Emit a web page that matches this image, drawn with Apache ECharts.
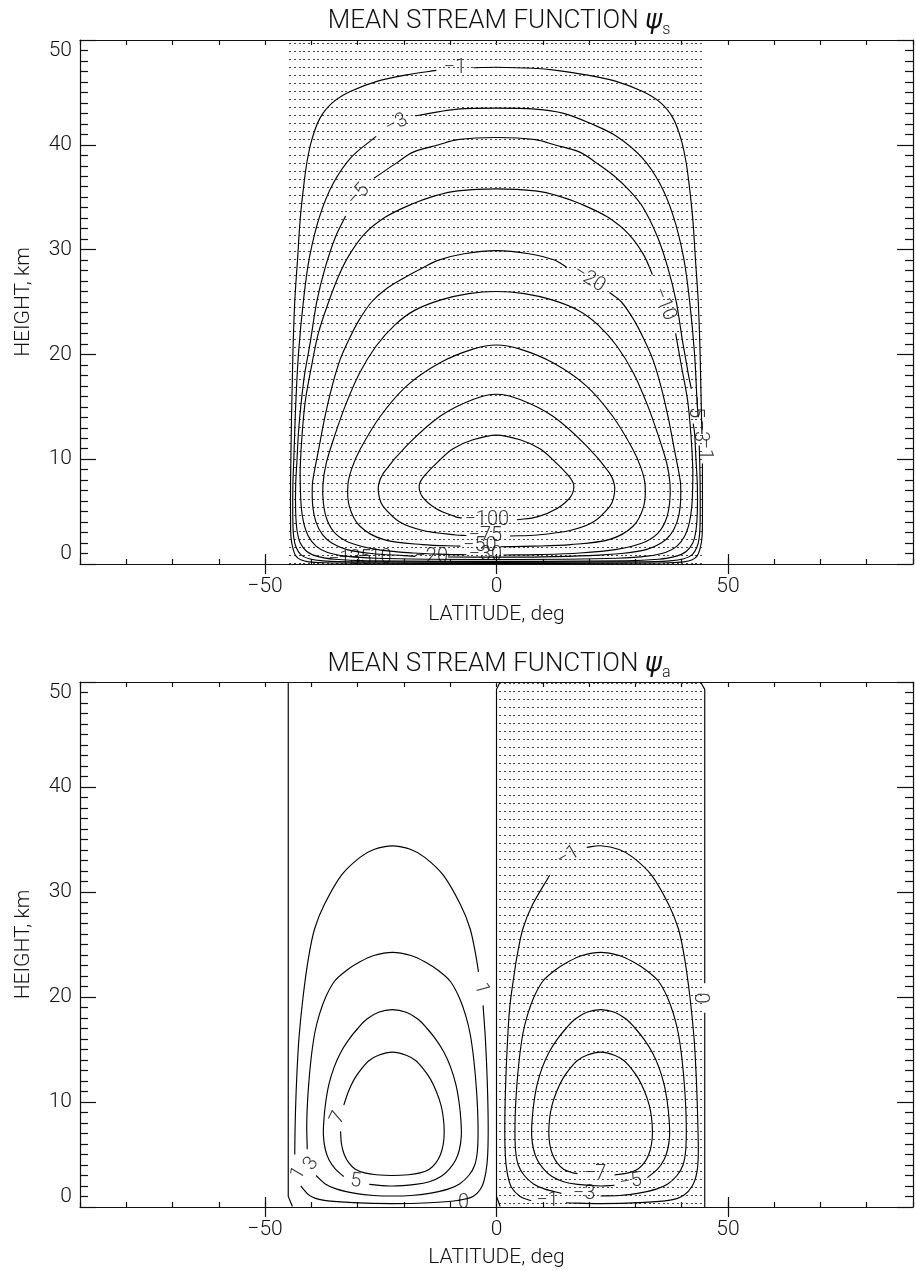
<!DOCTYPE html>
<html>
<head>
<meta charset="utf-8">
<script src="https://cdn.jsdelivr.net/npm/echarts@6/dist/echarts.min.js"></script>
<style>
  html, body { margin: 0; padding: 0; background: #fff; }
  #chart { width: 916px; height: 1271px; }
</style>
</head>
<body>
<div id="chart"></div>
<script>
// ---- axis ticks ----
const xMajorTicks = [-50, 0, 50];

// ---- ψs contours: [latitude deg, height km]; null = gap left for a label ----
const psiS_1 = [
  [-5,47.35],[0,47.4],[8,47.3],[13,47.1],[19,46.7],[25.5,46.1],[31.5,45.1],[35.5,44.0],[38.2,42.5],[39.9,40.5],
  [40.9,38.5],[41.6,36.3],[42.4,33.0],[43.0,29.0],[43.6,25.0],[44.0,20.0],[44.3,14.0],[44.4,12.4], null,
  [44.5,9.6],[44.5,8.0],[44.5,4.0],[44.4,2.5],[44.0,1.5],[43.4,0.8],[42.3,0.4],[40.5,0.2],[37,0.12],[28,0.08],
  [0,0.06],[-28,0.08],[-37,0.12],[-40.5,0.2],[-42.3,0.4],[-43.4,0.8],[-44.0,1.5],[-44.4,2.5],[-44.5,4.0],
  [-44.5,8.0],[-44.3,14.0],[-44.0,20.0],[-43.6,25.0],[-43.0,29.0],[-42.4,33.0],[-41.6,36.3],[-40.9,38.5],
  [-39.9,40.5],[-38.2,42.5],[-35.5,44.0],[-31.5,45.1],[-25.5,46.1],[-19,46.7],[-13,47.1]
];
const psiS_3 = [
  [-17.5,42.75],[-14.5,43.0],[-8.4,43.4],[0,43.5],[8.4,43.4],[14.5,43.0],[20.5,42.0],[26,40.8],[31.4,38.8],
  [35.3,36.3],[38.2,33.2],[40.4,29.3],[41.7,25.2],[42.8,20.0],[43.4,15.0],[43.6,14.0], null,
  [43.8,11.3],[43.9,10.0],[44.0,7.5],[44.0,4.0],[43.8,2.5],[43.3,1.6],[42.3,0.9],[40.5,0.5],[37.5,0.3],[30,0.2],
  [0,0.15],[-30,0.2],[-37.5,0.3],[-40.5,0.5],[-42.3,0.9],[-43.3,1.6],[-43.8,2.5],[-44.0,4.0],[-44.0,7.5],
  [-43.8,10.0],[-43.4,15.0],[-42.8,20.0],[-41.7,25.2],[-40.4,29.3],[-38.2,33.2],[-35.3,36.3],[-31.4,38.8],[-26,40.8]
];
const psiS_5 = [
  [-26.5,36.8],[-21.5,38.3],[-18,39.3],[-12.5,40.0],[-8.4,40.5],[0,40.7],[8.4,40.5],[12.5,40.0],[18,39.3],
  [21.5,38.3],[25.5,37.0],[29,35.5],[31.7,34.0],[34.8,31.2],[37.0,28.3],[38.8,25.1],[40.3,21.0],[41.5,18.0],
  [42.1,16.7], null,
  [42.5,13.4],[42.8,12.5],[43.1,10.0],[43.4,7.5],[43.4,5.0],[43.1,3.2],[42.4,2.0],[41.0,1.2],[38.5,0.7],[35,0.45],
  [28,0.3],[0,0.25],[-28,0.3],[-35,0.45],[-38.5,0.7],[-41.0,1.2],[-42.4,2.0],[-43.1,3.2],[-43.4,5.0],[-43.4,7.5],
  [-43.1,10.0],[-42.8,12.5],[-42.3,15.0],[-41.5,18.0],[-40.3,21.0],[-38.8,25.1],[-37.0,28.3],[-34.8,31.2],[-32.6,33.2]
];
const psiS_10 = [
  [38.7,22.0],[40.0,18.8],[41.3,15.6],[42.0,12.4],[42.4,9.3],[42.4,7.5],[42.2,5.5],[41.7,4.0],[40.7,2.7],
  [39.0,1.7],[36.5,1.1],[32.5,0.75],[26,0.55],[15,0.45],[0,0.43],[-15,0.45],[-26,0.55],[-32.5,0.75],
  [-36.5,1.1],[-39.0,1.7],[-40.7,2.7],[-41.7,4.0],[-42.2,5.5],[-42.4,7.5],[-42.4,9.3],[-42.0,12.4],
  [-41.3,15.6],[-40.0,18.8],[-38.5,22.0],[-36.2,25.1],[-34.0,27.6],[-31.8,29.5],[-28.5,31.5],[-24.0,33.1],
  [-18.5,34.3],[-13.5,35.1],[-8.4,35.6],[0,35.8],[8.4,35.6],[13.5,35.1],[18.5,34.3],[24.0,33.1],[28.5,31.5],
  [31.8,29.5],[33.7,27.6]
];
const psiS_20 = [
  [15.2,28.3],[12.5,29.0],[7,29.6],[0,29.9],[-7,29.6],[-12.5,29.0],[-15.8,28.3],[-20,27.3],[-24,26.2],
  [-27,25.0],[-29.8,23.2],[-31.8,21.5],[-33.8,19.5],[-35.5,17.0],[-37.1,14.0],[-38.4,11.0],[-39.5,8.5],
  [-39.8,7.5],[-39.7,5.5],[-39.0,4.0],[-37.6,2.8],[-35.6,2.0],[-32.5,1.4],[-27,1.0],[-20,0.8],[-17.5,0.73], null,
  [-10.5,0.67],[0,0.65],[10,0.68],[20,0.8],[27,1.0],[32.5,1.4],[35.6,2.0],[37.6,2.8],[39.0,4.0],[39.7,5.5],
  [39.8,7.5],[39.5,8.5],[38.4,11.0],[37.1,14.0],[35.5,17.0],[33.8,19.5],[31.8,21.5],[29.8,23.2],[27,25.0],[24.4,25.9]
];
const psiS_30 = [
  [1.5,0.86],[9,0.9],[18,1.05],[26,1.4],[31.5,2.0],[34.8,2.9],[36.6,4.2],[37.4,5.8],[37.5,7.6],[36.8,9.6],
  [35.0,12.2],[32.5,15.3],[29.5,18.3],[26,20.8],[22,22.8],[17.7,24.2],[12,25.2],[6,25.8],[0,26.0],[-6,25.8],
  [-12,25.2],[-17.7,24.2],[-22,22.8],[-26,20.8],[-29.5,18.3],[-32.5,15.3],[-35.0,12.2],[-36.8,9.6],[-37.5,7.6],
  [-37.4,5.8],[-36.6,4.2],[-34.8,2.9],[-31.5,2.0],[-26,1.4],[-18,1.05],[-11,0.92],[-6.5,0.88]
];
const psiS_50 = [
  [0.8,1.65],[8,1.7],[16,1.85],[24.5,2.35],[29.5,3.6],[31.8,5.5],[32.1,7.6],[31.2,9.2],[29.4,11.0],[25.1,14.1],
  [19.4,17.0],[12.2,19.2],[5.1,20.5],[0,20.9],[-5.1,20.5],[-12.2,19.2],[-19.4,17.0],[-25.1,14.1],[-29.4,11.0],
  [-31.2,9.2],[-32.1,7.6],[-31.8,5.5],[-29.5,3.6],[-24.5,2.35],[-16,1.85],[-7.8,1.7]
];
const psiS_75 = [
  [2.9,2.67],[8.8,2.77],[15.9,3.2],[20.9,4.0],[24.5,5.5],[25.3,6.3],[25.5,7.5],[24.4,8.7],[19.4,11.3],
  [12.2,14.1],[5.1,15.7],[0,16.2],[-5.1,15.7],[-12.2,14.1],[-19.4,11.3],[-24.4,8.7],[-25.5,7.5],[-25.3,6.3],
  [-24.5,5.5],[-20.9,4.0],[-15.9,3.2],[-8.8,2.77],[-6.5,2.72]
];
const psiS_100 = [
  [4.4,4.22],[8.8,4.5],[13.1,5.3],[16.0,6.4],[16.7,7.5],[15.6,8.4],[12.3,9.9],[9.4,11.0],[5.1,11.85],[0,12.3],
  [-5.1,11.85],[-9.4,11.0],[-12.3,9.9],[-15.6,8.4],[-16.7,7.5],[-16.0,6.4],[-13.1,5.3],[-8.8,4.5],[-7.5,4.4]
];
// ψs contour labels: [text, latitude, height, rotation]
const labelsS = [
  ['\u22121', -9, 47.3, 0],
  ['\u22123', -21.6, 42.0, 27],
  ['\u22125', -29.8, 35.2, 48],
  ['\u221220', 20.0, 27.2, -32],
  ['\u221210', 36.2, 24.8, -68],
  ['\u22125', 43.0, 15.0, -90],
  ['\u22123', 44.0, 12.7, -90],
  ['\u22121', 44.9, 11.0, -90],
  ['\u2212100', -2.1, 4.2, 0],
  ['\u221275', -2.4, 2.7, 0],
  ['\u221250', -3.6, 1.7, 0],
  ['\u221230', -2.4, 0.86, 0],
  ['\u221220', -14.1, 0.7, 0],
  ['\u221210', -26.3, 0.55, 0],
  ['\u22125', -29.5, 0.5, 0],
  ['\u22123', -31.8, 0.45, 0],
  ['\u22121', -34.0, 0.4, 0]
];
// region where ψs < 0
const shadeS = [[-45,0],[-45,50],[45,50],[45,0]];

// ---- ψa contours ----
const psiA_p1 = [
  [-3.9,22.4],[-4.4,23.8],[-5.7,26.5],[-7.8,28.8],[-11.5,31.6],[-15.5,33.3],[-18.5,34.05],[-22.5,34.4],
  [-26.5,34.05],[-29.5,33.3],[-33.5,31.6],[-37.2,28.8],[-39.3,26.5],[-40.6,23.8],[-41.8,20.0],[-42.7,16.0],
  [-43.2,12.0],[-43.5,8.0],[-43.6,5.0], null,
  [-42.3,2.0],[-40.4,1.1],[-37.5,0.65],[-31,0.42],[-22.6,0.32],[-14.5,0.4],[-8.5,0.62],[-5.1,1.0],[-3.2,1.9],
  [-2.3,3.3],[-1.9,5.0],[-1.8,8.0],[-2.0,12.0],[-2.4,16.0],[-2.9,19.2]
];
const psiA_p3 = [
  [-39.0,3.0],[-37.0,2.2],[-34.5,1.7],[-30.5,1.3],[-26.5,1.1],[-22.5,1.05],[-18.5,1.1],[-14.5,1.3],[-10.5,1.7],
  [-8.0,2.2],[-6.0,3.0],[-4.7,4.0],[-4.1,5.5],[-4.0,8.0],[-4.3,11.0],[-4.9,14.0],[-5.7,16.5],[-6.7,18.3],
  [-8.1,20.0],[-10.0,21.5],[-12.5,22.5],[-15.5,23.35],[-18.5,23.95],[-22.5,24.25],[-26.5,23.95],[-29.5,23.35],
  [-32.5,22.5],[-35.0,21.5],[-36.9,20.0],[-38.3,18.3],[-39.3,16.5],[-40.1,14.0],[-40.7,11.0],[-41.0,8.0],[-40.9,5.5]
];
const psiA_p5 = [
  [-27.5,2.15],[-22.5,2.0],[-17.5,2.15],[-14.5,2.4],[-12.0,2.9],[-10.2,3.6],[-8.8,4.5],[-8.0,5.5],[-7.6,6.8],
  [-7.7,8.3],[-8.1,10.0],[-8.8,11.7],[-9.9,13.3],[-11.3,14.7],[-13.0,15.9],[-15.0,17.0],[-17.0,17.9],
  [-19.5,18.55],[-22.5,18.8],[-25.5,18.55],[-28.0,17.9],[-30.0,17.0],[-32.0,15.9],[-33.7,14.7],[-35.1,13.3],
  [-36.2,11.7],[-36.9,10.0],[-37.3,8.3],[-37.4,6.8],[-37.0,5.5],[-36.2,4.5],[-34.8,3.6],[-33.0,2.9]
];
const psiA_p7 = [
  [-33.7,7.2],[-33.5,6.0],[-32.9,5.0],[-31.9,4.2],[-30.5,3.6],[-28.5,3.25],[-26.0,3.07],[-22.5,3.0],[-19.0,3.07],
  [-16.5,3.25],[-14.5,3.6],[-13.1,4.2],[-12.1,5.0],[-11.5,6.0],[-11.3,7.2],[-11.5,8.5],[-12.0,9.7],[-13.0,11.0],
  [-14.3,12.2],[-15.9,13.2],[-17.5,13.95],[-19.5,14.45],[-22.5,14.75],[-25.5,14.45],[-27.5,13.95],[-29.1,13.2],
  [-30.7,12.2],[-32.0,11.0],[-33.0,9.7]
];
const psiA_m1 = [
  [19.5,34.25],[22.5,34.4],[26.5,34.05],[29.5,33.3],[33.5,31.6],[37.2,28.8],[39.3,26.5],[40.6,23.8],[41.8,20.0],
  [42.7,16.0],[43.2,12.0],[43.5,8.0],[43.6,5.0],[43.3,3.3],[42.3,2.0],[40.4,1.1],[37.5,0.65],[31,0.42],
  [22.6,0.32],[15,0.4], null,
  [7.5,0.6],[5.1,1.0],[3.2,1.9],[2.3,3.3],[1.9,5.0],[1.8,8.0],[2.0,12.0],[2.4,16.0],[2.9,19.2],[3.9,22.4],
  [4.4,23.8],[5.7,26.5],[7.8,28.8],[11.5,31.6]
];
const psiA_m3 = [
  [22.5,1.05],[26.5,1.1],[30.5,1.3],[34.5,1.7],[37.0,2.2],[39.0,3.0],[40.3,4.0],[40.9,5.5],[41.0,8.0],
  [40.7,11.0],[40.1,14.0],[39.3,16.5],[38.3,18.3],[36.9,20.0],[35.0,21.5],[32.5,22.5],[29.5,23.35],[26.5,23.95],
  [22.5,24.25],[18.5,23.95],[15.5,23.35],[12.5,22.5],[10.0,21.5],[8.1,20.0],[6.7,18.3],[5.7,16.5],[4.9,14.0],
  [4.3,11.0],[4.0,8.0],[4.1,5.5],[4.7,4.0],[6.0,3.0],[8.0,2.2],[10.5,1.7],[14.0,1.3]
];
const psiA_m5 = [
  [32.6,2.8],[34.8,3.6],[36.2,4.5],[37.0,5.5],[37.4,6.8],[37.3,8.3],[36.9,10.0],[36.2,11.7],[35.1,13.3],
  [33.7,14.7],[32.0,15.9],[30.0,17.0],[28.0,17.9],[25.5,18.55],[22.5,18.8],[19.5,18.55],[17.0,17.9],[15.0,17.0],
  [13.0,15.9],[11.3,14.7],[9.9,13.3],[8.8,11.7],[8.1,10.0],[7.7,8.3],[7.6,6.8],[8.0,5.5],[8.8,4.5],[10.2,3.6],
  [12.0,2.9],[14.5,2.4],[17.5,2.15],[22.5,2.0],[25.5,2.07]
];
const psiA_m7 = [
  [25.5,3.05],[28.5,3.25],[30.5,3.6],[31.9,4.2],[32.9,5.0],[33.5,6.0],[33.7,7.2],[33.5,8.5],[33.0,9.7],
  [32.0,11.0],[30.7,12.2],[29.1,13.2],[27.5,13.95],[25.5,14.45],[22.5,14.75],[19.5,14.45],[17.5,13.95],
  [15.9,13.2],[14.3,12.2],[13.0,11.0],[12.0,9.7],[11.5,8.5],[11.3,7.2],[11.5,6.0],[12.1,5.0],[13.1,4.2],
  [14.5,3.6],[16.5,3.25],[17.5,3.18]
];
// zero contour of ψa (drawn with straight segments)
const psiA_zero = [
  [-45,50],[-45,1.0],[-44.1,0.05], null,
  [0.8,50],[0,49.3],[0,1.0],[0.8,0.05], null,
  [44.1,50],[45,49.3],[45,21.3], null,
  [45,18.5],[45,0]
];
const labelsA = [
  ['1', -3.3, 20.8, -75],
  ['7', -34.2, 8.5, 65],
  ['3', -40.0, 4.1, 55],
  ['1', -42.8, 3.2, 60],
  ['5', -30.4, 2.45, -5],
  ['0', -7.1, 0.35, 0],
  ['\u22121', 15.5, 33.4, 30],
  ['\u22127', 21.3, 3.1, 0],
  ['\u22125', 29.0, 2.4, 10],
  ['\u22123', 18.9, 1.2, 0],
  ['\u22121', 11.0, 0.6, 0],
  ['0', 43.9, 19.9, -90]
];
// region where ψa < 0
const shadeA = [[0,0],[0,50],[45,50],[45,0]];

// ---------------------------------------------------------------
const FONT = 'Roboto, "Liberation Sans", sans-serif';
const INK = '#111';

function dotTile() {
  const c = document.createElement('canvas');
  c.width = 14; c.height = 8;
  const g = c.getContext('2d');
  g.fillStyle = '#444';
  [0, 5, 9].forEach(x => g.fillRect(x, 3, 2, 1));
  return c;
}
const dots = { image: dotTile(), repeat: 'repeat' };

function fmtLat(v) { return v < 0 ? '\u2212' + (-v) : String(v); }

function splitPath(path) {
  const out = []; let cur = [];
  path.forEach(p => {
    if (p === null) { if (cur.length) out.push(cur); cur = []; }
    else cur.push(p);
  });
  if (cur.length) out.push(cur);
  return out;
}

// smooth curve through pixel points (chord-length weighted tangents)
function curvePath(px, smooth) {
  const f = v => v.toFixed(2);
  let d = 'M' + f(px[0][0]) + ' ' + f(px[0][1]);
  if (!smooth || px.length < 3) {
    for (let i = 1; i < px.length; i++) d += 'L' + f(px[i][0]) + ' ' + f(px[i][1]);
    return d;
  }
  const dist = (a, b) => Math.hypot(b[0] - a[0], b[1] - a[1]);
  const tan = i => {
    const a = px[Math.max(i - 1, 0)], b = px[Math.min(i + 1, px.length - 1)];
    const L = (i > 0 ? dist(px[i - 1], px[i]) : 0) + (i < px.length - 1 ? dist(px[i], px[i + 1]) : 0) || 1;
    return [(b[0] - a[0]) / L, (b[1] - a[1]) / L];
  };
  for (let i = 0; i < px.length - 1; i++) {
    const p1 = px[i], p2 = px[i + 1], s = dist(p1, p2) / 3;
    const t1 = tan(i), t2 = tan(i + 1);
    d += 'C' + f(p1[0] + t1[0] * s) + ' ' + f(p1[1] + t1[1] * s) + ' ' +
         f(p2[0] - t2[0] * s) + ' ' + f(p2[1] - t2[1] * s) + ' ' + f(p2[0]) + ' ' + f(p2[1]);
  }
  return d;
}

const tickStyle = { color: INK, width: 1.2 };
const axisLineStyle = { show: true, onZero: false, lineStyle: { color: INK, width: 1.2 } };

function xAxesFor(gi) {
  const base = { gridIndex: gi, type: 'value', min: -90, max: 90, interval: 10, splitLine: { show: false } };
  return [
    Object.assign({}, base, {
      position: 'bottom', axisLine: axisLineStyle,
      axisTick: { show: true, inside: true, length: 5, lineStyle: tickStyle },
      axisLabel: {
        show: true, margin: 12, fontSize: 21, fontFamily: FONT, fontWeight: 300, color: INK,
        formatter: v => xMajorTicks.includes(v) ? fmtLat(v) : ''
      },
      name: 'LATITUDE, deg', nameLocation: 'middle', nameGap: 40,
      nameTextStyle: { fontSize: 21, fontFamily: FONT, fontWeight: 300, color: INK }
    }),
    Object.assign({}, base, {
      position: 'bottom', axisLine: { show: false },
      axisTick: { show: true, inside: true, length: 10, customValues: xMajorTicks, lineStyle: tickStyle },
      axisLabel: { show: false }
    }),
    Object.assign({}, base, {
      position: 'top', axisLine: axisLineStyle,
      axisTick: { show: true, inside: true, length: 5, lineStyle: tickStyle },
      axisLabel: { show: false }
    }),
    Object.assign({}, base, {
      position: 'top', axisLine: { show: false },
      axisTick: { show: true, inside: true, length: 10, customValues: xMajorTicks, lineStyle: tickStyle },
      axisLabel: { show: false }
    })
  ];
}

function yAxesFor(gi) {
  const base = {
    gridIndex: gi, type: 'value', min: 0, max: 50, interval: 10, splitLine: { show: false },
    axisLine: axisLineStyle,
    axisTick: { show: true, inside: true, length: 16, lineStyle: tickStyle },
    minorTick: { show: true, splitNumber: 10, length: 8, lineStyle: tickStyle }
  };
  return [
    Object.assign({}, base, {
      position: 'left',
      axisLabel: {
        show: true, margin: 8, fontSize: 21, fontFamily: FONT, fontWeight: 300, color: INK,
        verticalAlignMinLabel: 'bottom', verticalAlignMaxLabel: 'top'
      },
      name: 'HEIGHT, km', nameLocation: 'middle', nameGap: 46, nameRotate: 90,
      nameTextStyle: { fontSize: 21, fontFamily: FONT, fontWeight: 300, color: INK }
    }),
    Object.assign({}, base, { position: 'right', axisLabel: { show: false } })
  ];
}

const panels = [
  { contours: [psiS_1, psiS_3, psiS_5, psiS_10, psiS_20, psiS_30, psiS_50, psiS_75, psiS_100],
    zero: null, shade: shadeS, labels: labelsS },
  { contours: [psiA_p1, psiA_p3, psiA_p5, psiA_p7, psiA_m1, psiA_m3, psiA_m5, psiA_m7],
    zero: psiA_zero, shade: shadeA, labels: labelsA }
];

function curveSeries(xi, yi, segs, smooth) {
  return {
    type: 'custom', xAxisIndex: xi, yAxisIndex: yi, silent: true, z: 3,
    data: segs.map((s, i) => [0, 0, i]),
    renderItem: (params, api) => {
      const seg = segs[api.value(2)];
      return {
        type: 'path',
        shape: { pathData: curvePath(seg.map(p => api.coord(p)), smooth) },
        style: { fill: 'none', stroke: '#000', lineWidth: 1.15 }
      };
    }
  };
}

const series = [];
panels.forEach((pn, gi) => {
  const xi = gi * 4, yi = gi * 2;
  series.push({
    type: 'custom', xAxisIndex: xi, yAxisIndex: yi, silent: true, z: 1,
    data: [[0, 0]],
    renderItem: (params, api) => ({
      type: 'polygon',
      shape: { points: pn.shade.map(p => api.coord(p)) },
      style: { fill: dots, stroke: null }
    })
  });
  let segs = [];
  pn.contours.forEach(path => { segs = segs.concat(splitPath(path)); });
  series.push(curveSeries(xi, yi, segs, true));
  if (pn.zero) series.push(curveSeries(xi, yi, splitPath(pn.zero), false));
  series.push({
    type: 'scatter', xAxisIndex: xi, yAxisIndex: yi, symbolSize: 1, silent: true, z: 4,
    itemStyle: { color: 'rgba(0,0,0,0)' },
    data: pn.labels.map(l => ({
      value: [l[1], l[2]],
      label: { show: true, formatter: l[0], rotate: l[3] }
    })),
    label: {
      show: true, position: 'inside', fontSize: 20, fontFamily: FONT, fontWeight: 300, color: '#000'
    }
  });
});

function titleText(y, sub) {
  return {
    type: 'text', x: 499, y: y, silent: true,
    style: {
      text: '{m|MEAN STREAM FUNCTION }{p|\u03C8}{s|' + sub + '}',
      align: 'center', verticalAlign: 'middle',
      rich: {
        m: { fontSize: 26, fontFamily: FONT, fontWeight: 300, fill: INK, lineHeight: 34 },
        p: { fontSize: 26, fontFamily: '"DejaVu Sans", sans-serif', fontStyle: 'italic', fill: INK, lineHeight: 34 },
        s: { fontSize: 16, fontFamily: FONT, fontWeight: 300, fill: INK, lineHeight: 14, verticalAlign: 'bottom' }
      }
    }
  };
}

const chart = echarts.init(document.getElementById('chart'), null, { renderer: 'canvas' });
chart.setOption({
  animation: false,
  backgroundColor: '#fff',
  grid: [
    { left: 80, top: 40, width: 838, height: 524, containLabel: false },
    { left: 80, top: 682, width: 838, height: 525, containLabel: false }
  ],
  xAxis: xAxesFor(0).concat(xAxesFor(1)),
  yAxis: yAxesFor(0).concat(yAxesFor(1)),
  graphic: [titleText(21, 's'), titleText(664, 'a')],
  series: series
});
</script>
</body>
</html>
